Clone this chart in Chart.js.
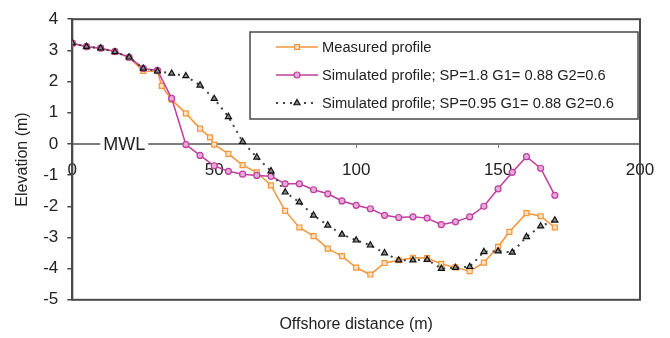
<!DOCTYPE html>
<html>
<head>
<meta charset="utf-8">
<script src="https://cdn.jsdelivr.net/npm/chart.js@4.4.0/dist/chart.umd.min.js"></script>
<style>
  html, body { margin: 0; padding: 0; background: #ffffff; }
  #wrap { width: 670px; height: 338px; position: relative; }
</style>
</head>
<body>
<div id="wrap"><canvas id="profile-chart"></canvas></div>
<script>
  const measuredX = [0, 5, 10, 15, 20, 25, 30, 31.5, 35, 40, 45, 48.5, 50, 55, 60, 65, 70, 75, 80, 85, 90, 95, 100, 105, 110, 115, 120, 125, 130, 135, 140, 145, 150, 154, 160, 165, 170];
  const measuredY = [3.23, 3.12, 3.07, 2.96, 2.77, 2.34, 2.33, 1.86, 1.42, 0.98, 0.49, 0.21, -0.02, -0.32, -0.68, -0.91, -1.33, -2.15, -2.68, -2.96, -3.36, -3.6, -3.97, -4.19, -3.82, -3.73, -3.65, -3.66, -3.85, -3.96, -4.08, -3.81, -3.3, -2.82, -2.22, -2.32, -2.68];

  const simX = [0, 5, 10, 15, 20, 25, 30, 35, 40, 45, 50, 55, 60, 65, 70, 75, 80, 85, 90, 95, 100, 105, 110, 115, 120, 125, 130, 135, 140, 145, 150, 155, 160, 165, 170];
  const simSp18Y = [3.23, 3.12, 3.07, 2.96, 2.78, 2.42, 2.36, 1.46, -0.02, -0.37, -0.7, -0.88, -0.97, -1.01, -1.04, -1.28, -1.28, -1.47, -1.6, -1.83, -1.97, -2.08, -2.29, -2.36, -2.34, -2.38, -2.59, -2.5, -2.34, -2.0, -1.44, -0.91, -0.41, -0.78, -1.65];
  const simSp095Y = [3.23, 3.12, 3.07, 2.95, 2.78, 2.42, 2.33, 2.26, 2.18, 1.88, 1.45, 0.87, 0.07, -0.43, -0.87, -1.55, -1.87, -2.29, -2.61, -2.9, -3.09, -3.25, -3.5, -3.73, -3.73, -3.71, -4.0, -3.97, -3.94, -3.46, -3.44, -3.48, -2.98, -2.64, -2.45];

  const seriesLabels = [
    "Measured profile",
    "Simulated profile; SP=1.8 G1= 0.88 G2=0.6",
    "Simulated profile; SP=0.95 G1= 0.88 G2=0.6"
  ];
  const xTicks = [0, 50, 100, 150, 200];
  const yTicks = [-5, -4, -3, -2, -1, 0, 1, 2, 3, 4];
  const mwlText = "MWL";
  const mwlAt = 18.3;

  const orange = "#f4953a";
  const magenta = "#c03c9f";
  const dark = "#444444";
  const axisColor = "#4a4a4a";
  const textColor = "#222222";
  const family = "'Liberation Sans', Arial, sans-serif";

  function toPoints(xs, ys) {
    return xs.map((x, i) => ({ x: x, y: ys[i] }));
  }

  // box round the plot area
  const frame = {
    id: "frame",
    beforeDatasetsDraw(chart) {
      const a = chart.chartArea;
      const ctx = chart.ctx;
      ctx.save();
      ctx.strokeStyle = axisColor;
      ctx.lineWidth = 2;
      ctx.strokeRect(a.left, a.top, a.right - a.left, a.bottom - a.top);
      ctx.restore();
    }
  };

  // "MWL" written over the zero line
  const mwl = {
    id: "mwl",
    afterDatasetsDraw(chart) {
      const ctx = chart.ctx;
      const px = chart.scales.x.getPixelForValue(mwlAt);
      const py = chart.scales.y.getPixelForValue(0);
      ctx.save();
      ctx.font = "18px " + family;
      const w = ctx.measureText(mwlText).width;
      ctx.fillStyle = "#ffffff";
      ctx.fillRect(px - w / 2 - 3, py - 6, w + 6, 12);
      ctx.fillStyle = textColor;
      ctx.textAlign = "center";
      ctx.textBaseline = "middle";
      ctx.fillText(mwlText, px, py + 1);
      ctx.restore();
    }
  };

  // boxed legend with line + marker samples
  const boxLegend = {
    id: "boxLegend",
    afterDraw(chart, args, opts) {
      const ctx = chart.ctx;
      ctx.save();
      ctx.fillStyle = "#ffffff";
      ctx.fillRect(opts.left, opts.top, opts.width, opts.height);
      ctx.strokeStyle = axisColor;
      ctx.lineWidth = 1.5;
      ctx.strokeRect(opts.left, opts.top, opts.width, opts.height);
      chart.data.datasets.forEach((ds, i) => {
        const y = opts.top + opts.firstRow + i * opts.rowGap;
        const x1 = opts.left + opts.lineStart;
        const x2 = x1 + opts.lineLength;
        ctx.strokeStyle = ds.borderColor;
        ctx.lineWidth = ds.borderWidth;
        ctx.setLineDash(ds.borderDash || []);
        ctx.beginPath();
        ctx.moveTo(x1, y);
        ctx.lineTo(x2, y);
        ctx.stroke();
        ctx.setLineDash([]);
        ctx.fillStyle = ds.pointBackgroundColor;
        ctx.strokeStyle = ds.pointBorderColor;
        ctx.lineWidth = ds.pointBorderWidth;
        Chart.helpers.drawPoint(ctx, {
          pointStyle: ds.pointStyle,
          radius: ds.pointRadius,
          borderWidth: ds.pointBorderWidth,
          rotation: 0
        }, (x1 + x2) / 2, y);
        ctx.fillStyle = textColor;
        ctx.font = opts.fontSize + "px " + family;
        ctx.textBaseline = "middle";
        ctx.textAlign = "left";
        ctx.fillText(ds.label, x2 + 4, y + 1);
      });
      ctx.restore();
    }
  };

  const tickFont = { family: family, size: 17 };

  new Chart(document.getElementById("profile-chart"), {
    type: "line",
    data: {
      datasets: [
        {
          label: seriesLabels[0],
          data: toPoints(measuredX, measuredY),
          borderColor: orange,
          borderWidth: 1.5,
          pointStyle: "rect",
          pointRadius: 3.5,
          pointBackgroundColor: "#fde2c2",
          pointBorderColor: orange,
          pointBorderWidth: 1.2,
          order: 3
        },
        {
          label: seriesLabels[1],
          data: toPoints(simX, simSp18Y),
          borderColor: magenta,
          borderWidth: 1.5,
          pointStyle: "circle",
          pointRadius: 3,
          pointBackgroundColor: "#e7a9d8",
          pointBorderColor: magenta,
          pointBorderWidth: 1.2,
          order: 2
        },
        {
          label: seriesLabels[2],
          data: toPoints(simX, simSp095Y),
          borderColor: dark,
          borderWidth: 2,
          borderDash: [2, 5],
          pointStyle: "triangle",
          pointRadius: 3.5,
          pointBackgroundColor: "#8a8a8a",
          pointBorderColor: "#111111",
          pointBorderWidth: 1.2,
          order: 1
        }
      ]
    },
    options: {
      responsive: true,
      maintainAspectRatio: false,
      animation: false,
      devicePixelRatio: 1,
      layout: { padding: { left: 13, right: 30, top: 18, bottom: 0 } },
      plugins: {
        legend: { display: false },
        tooltip: { enabled: false },
        title: {
          display: true,
          position: "bottom",
          fullSize: false,
          text: "Offshore distance (m)",
          color: textColor,
          font: { family: family, size: 16, weight: "normal" },
          padding: { top: 15, bottom: 4 }
        },
        boxLegend: {
          left: 250, top: 32, width: 388, height: 87,
          firstRow: 15, rowGap: 28,
          lineStart: 26, lineLength: 42,
          fontSize: 14.7
        }
      },
      scales: {
        x: {
          type: "linear",
          min: 0,
          max: 200,
          position: { y: 0 },
          afterBuildTicks: (s) => { s.ticks = xTicks.map((v) => ({ value: v })); },
          ticks: { font: tickFont, color: textColor, padding: 13, autoSkip: false, maxRotation: 0 },
          grid: { drawOnChartArea: false, drawTicks: true, tickLength: 3, color: "#777777" },
          border: { display: true, color: "#7d7d7d", width: 2 }
        },
        y: {
          min: -5,
          max: 4,
          afterBuildTicks: (s) => { s.ticks = yTicks.map((v) => ({ value: v })); },
          ticks: { font: tickFont, color: textColor, padding: 9, autoSkip: false },
          grid: { drawOnChartArea: false, drawTicks: true, tickLength: 5, color: axisColor, lineWidth: 1.5 },
          border: { display: true, color: axisColor, width: 2 },
          title: {
            display: true,
            text: "Elevation (m)",
            color: textColor,
            font: { family: family, size: 16 },
            padding: { top: 0, bottom: 2 }
          }
        }
      }
    },
    plugins: [frame, mwl, boxLegend]
  });
</script>
</body>
</html>
